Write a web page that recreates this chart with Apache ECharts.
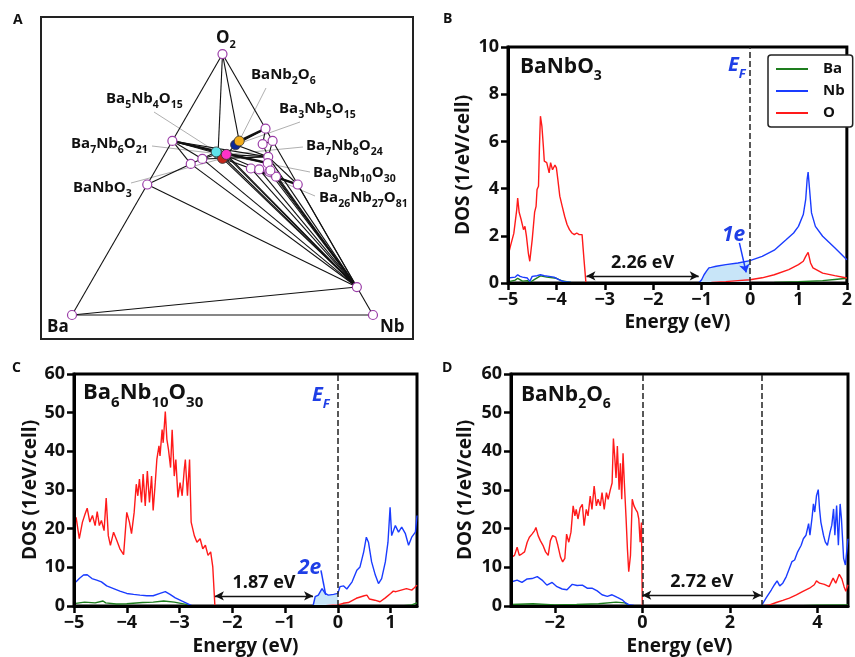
<!DOCTYPE html>
<html>
<head>
<meta charset="utf-8">
<script src="https://cdn.jsdelivr.net/npm/echarts@6/dist/echarts.min.js"></script>
<style>
html, body { margin: 0; padding: 0; background: #fff; }
#chart { width: 855px; height: 657px; }
</style>
</head>
<body>
<div id="chart"></div>
<script>
const FONT = '"Open Sans", "Noto Sans", sans-serif';
const C_BA = '#1e7d1e', C_NB = '#1a3cff', C_O = '#ff1a1a', C_TXT = '#1f3fe6', C_FILL = '#c8e5f8';

// ---- panel A : Ba-Nb-O ternary, compositions as [Ba, Nb, O] ----
const hullNames = ['Ba', 'Nb', 'O2', 'BaO', 'BaO2', 'NbOx', 'Nb2O5', 'NbO2', 'NbO',
    'P1', 'P2', 'P3', 'P4', 'P5', 'P6', 'P7', 'P8', 'P9', 'P10'];
const hullComp = [[1, 0, 0], [0, 1, 0], [0, 0, 1], [0.5, 0, 0.5], [0.333, 0, 0.667], [0, 0.893, 0.107],
    [0, 0.286, 0.714], [0, 0.333, 0.667], [0, 0.5, 0.5],
    [0.316, 0.105, 0.579], [0.268, 0.134, 0.598], [0.039, 0.306, 0.655], [0.045, 0.349, 0.606],
    [0.125, 0.314, 0.562], [0.099, 0.343, 0.558], [0.058, 0.355, 0.575], [0.07, 0.381, 0.549],
    [0.057, 0.413, 0.53], [0.062, 0.37, 0.536]];
const compoundNames = ['Ba7Nb6O21', 'Ba26Nb27O81', 'Ba9Nb10O30', 'BaNbO3', 'Ba5Nb4O15', 'Ba7Nb8O24', 'Ba3Nb5O15', 'BaNb2O6'];
const compoundComp = [[7, 6, 21], [26, 27, 81], [9, 10, 30], [1, 1, 3], [5, 4, 15], [7, 8, 24], [3, 5, 15], [1, 2, 6]];
const compoundColors = ['#5f8f86', '#6b5a1e', '#8a4a1c', '#c4261c', '#5fe3ea', '#ff33c8', '#0d2a96', '#f2ad1c'];
const tieLines = [['Ba', 'O2'], ['O2', 'Nb'], ['Ba', 'Nb'], ['Ba', 'NbOx'], ['BaO', 'NbOx'],
    ['BaO', 'P1'], ['P1', 'Ba5Nb4O15'], ['BaO2', 'P1'], ['BaO2', 'P2'], ['BaO2', 'Ba7Nb6O21'],
    ['BaO2', 'P4'], ['BaO2', 'Ba7Nb8O24'], ['O2', 'Ba7Nb6O21'], ['O2', 'BaNb2O6'],
    ['Nb2O5', 'Ba3Nb5O15'], ['BaNb2O6', 'Ba3Nb5O15'], ['Ba3Nb5O15', 'Ba7Nb8O24'],
    ['P2', 'P4'], ['P2', 'Ba7Nb6O21'], ['Ba7Nb8O24', 'P4'], ['Ba3Nb5O15', 'P4'], ['Ba7Nb8O24', 'P7'],
    ['Nb2O5', 'P3'], ['P3', 'NbO2'], ['P3', 'P4'], ['NbO2', 'P4'],
    ['NbOx', 'P1'], ['NbOx', 'P2'], ['NbOx', 'BaNbO3'], ['NbOx', 'Ba26Nb27O81'], ['NbOx', 'Ba9Nb10O30'],
    ['NbOx', 'Ba7Nb8O24'], ['NbOx', 'P5'], ['NbOx', 'P6'], ['NbOx', 'P10'], ['NbOx', 'P8'],
    ['NbOx', 'P9'], ['NbOx', 'NbO'], ['NbOx', 'P4'], ['NbOx', 'P7'],
    ['BaNbO3', 'P5'], ['Ba9Nb10O30', 'P6'], ['P9', 'NbO'], ['P4', 'NbO']];
const thickLines = [['Nb2O5', 'BaNb2O6'], ['P5', 'NbO'], ['BaO2', 'P7']];

// ---- panel B : BaNbO3 DOS  [E (eV), DOS] ----
const bO = [[-5, 1.13], [-4.95, 1.56], [-4.88, 2.1], [-4.82, 3.1], [-4.8, 3.6], [-4.77, 3.0], [-4.73, 2.7],
    [-4.68, 2.26], [-4.65, 2.4], [-4.62, 2.0], [-4.58, 1.27], [-4.55, 0.92], [-4.5, 1.84], [-4.45, 3.0],
    [-4.42, 3.25], [-4.4, 3.96], [-4.37, 4.1], [-4.35, 5.8], [-4.33, 7.07], [-4.3, 6.65], [-4.27, 5.8],
    [-4.25, 5.16], [-4.2, 5.1], [-4.15, 4.67], [-4.12, 5.1], [-4.08, 4.8], [-4.03, 5.0], [-4.0, 4.88],
    [-3.97, 4.38], [-3.93, 3.68], [-3.88, 3.25], [-3.83, 2.83], [-3.78, 2.48], [-3.73, 2.26], [-3.68, 2.12],
    [-3.63, 2.05], [-3.58, 2.12], [-3.53, 2.05], [-3.47, 2.05], [-3.43, 0.99], [-3.39, 0], [-1.06, 0],
    [-0.8, 0.02], [-0.5, 0.06], [-0.25, 0.1], [0, 0.14], [0.25, 0.22], [0.5, 0.35], [0.8, 0.57], [1.0, 0.78],
    [1.1, 0.92], [1.15, 1.13], [1.2, 1.3], [1.25, 0.85], [1.3, 0.64], [1.5, 0.42], [1.75, 0.31], [2, 0.21]];
const bNb = [[-5, 0.21], [-4.85, 0.25], [-4.8, 0.35], [-4.75, 0.28], [-4.7, 0.25], [-4.6, 0.21], [-4.55, 0.07],
    [-4.5, 0.28], [-4.4, 0.31], [-4.33, 0.35], [-4.25, 0.31], [-4.15, 0.28], [-4.05, 0.25], [-3.95, 0.14],
    [-3.85, 0.06], [-3.7, 0.02], [-3.5, 0], [-1.06, 0], [-1.0, 0.14], [-0.95, 0.35], [-0.9, 0.5], [-0.85, 0.64],
    [-0.8, 0.66], [-0.7, 0.71], [-0.5, 0.78], [-0.25, 0.85], [0, 0.95], [0.25, 1.13], [0.5, 1.39], [0.75, 1.84],
    [0.9, 2.12], [1.0, 2.4], [1.1, 2.9], [1.15, 3.54], [1.18, 4.4], [1.2, 4.7], [1.23, 3.96], [1.27, 2.97],
    [1.35, 2.4], [1.5, 1.98], [1.75, 1.49], [2, 0.99]];
const bBa = [[-5, 0.05], [-4.85, 0.12], [-4.8, 0.2], [-4.7, 0.08], [-4.6, 0.1], [-4.55, 0.02], [-4.45, 0.15],
    [-4.33, 0.3], [-4.2, 0.25], [-4.0, 0.2], [-3.9, 0.1], [-3.7, 0.02], [-3.5, 0], [0, 0], [0.5, 0.02],
    [1.0, 0.05], [1.5, 0.1], [1.75, 0.15], [2, 0.2]];
const bGap = [-3.38, -1.06], bGapLabel = '2.26 eV', bFill = [-1.06, 0];

// ---- panel C : Ba6Nb10O30 DOS ----
const cO = [[-5, 22], [-4.96, 22.9], [-4.9, 17.4], [-4.84, 21.7], [-4.79, 23.8], [-4.75, 25.3], [-4.7, 21.7],
    [-4.65, 23.4], [-4.6, 20.8], [-4.56, 24.4], [-4.52, 20.8], [-4.48, 22.1], [-4.43, 19.5], [-4.39, 27.9],
    [-4.35, 18.2], [-4.31, 15.7], [-4.25, 19.1], [-4.19, 17], [-4.13, 14.8], [-4.06, 13.3], [-4.0, 24.2],
    [-3.95, 21.7], [-3.91, 18.7], [-3.86, 24.2], [-3.82, 31.5], [-3.79, 28.5], [-3.76, 32.8], [-3.72, 26.8],
    [-3.69, 34.1], [-3.65, 25.9], [-3.61, 34.9], [-3.57, 26.8], [-3.53, 33.6], [-3.5, 24.7], [-3.46, 31.9],
    [-3.43, 37.9], [-3.39, 41.4], [-3.37, 38.8], [-3.33, 45.6], [-3.31, 42.2], [-3.27, 50.3], [-3.24, 43.1],
    [-3.21, 40.5], [-3.17, 35.8], [-3.14, 45.6], [-3.1, 33.6], [-3.07, 37.9], [-3.03, 28.1], [-2.99, 31.9],
    [-2.95, 28.5], [-2.91, 35.4], [-2.89, 37.9], [-2.85, 28.5], [-2.81, 37.9], [-2.78, 21.7], [-2.72, 18.2],
    [-2.67, 16.5], [-2.61, 17.4], [-2.56, 14.8], [-2.51, 15.7], [-2.46, 13.1], [-2.41, 14], [-2.37, 10.1],
    [-2.34, 9.7], [-2.33, 0], [-0.3, 0], [-0.1, 0.2], [0, 0.26], [0.1, 0.7], [0.2, 0.9], [0.35, 2.0],
    [0.5, 2.65], [0.55, 2.8], [0.6, 1.8], [0.7, 1.5], [0.8, 1.1], [0.9, 2.1], [1.0, 3.25], [1.05, 3.85],
    [1.1, 3.7], [1.2, 4.1], [1.3, 4.5], [1.4, 4.1], [1.45, 4.7], [1.5, 5.4]];
const cNb = [[-5, 6.5], [-4.96, 6.25], [-4.9, 7.1], [-4.82, 8.0], [-4.75, 8.1], [-4.66, 7.1], [-4.57, 6.7],
    [-4.48, 6.25], [-4.38, 5.2], [-4.25, 4.5], [-4.13, 3.85], [-4.0, 3.25], [-3.87, 3.0], [-3.75, 2.8],
    [-3.62, 2.65], [-3.5, 2.65], [-3.37, 3.25], [-3.27, 3.7], [-3.18, 3.0], [-3.08, 2.1], [-2.96, 1.3],
    [-2.86, 0.7], [-2.77, 0.1], [-2.67, 0], [-0.47, 0], [-0.43, 2.4], [-0.37, 2.8], [-0.3, 4.5],
    [-0.24, 3.25], [-0.18, 2.8], [-0.08, 3.0], [0, 3.25], [0.04, 5.0], [0.11, 5.2], [0.17, 4.4], [0.27, 6.25],
    [0.36, 9.25], [0.42, 10.1], [0.49, 14], [0.54, 17.8], [0.58, 16.5], [0.64, 11.4], [0.71, 8.0], [0.77, 5.8],
    [0.83, 7.1], [0.9, 11.4], [0.95, 16.5], [0.99, 25.5], [1.02, 18.2], [1.09, 20.8], [1.15, 19.1],
    [1.21, 20.4], [1.28, 18.7], [1.34, 15.7], [1.4, 17.8], [1.47, 19.1], [1.5, 23.4]];
const cBa = [[-5, 0.6], [-4.8, 1.0], [-4.6, 0.8], [-4.45, 1.3], [-4.4, 0.8], [-4.2, 0.5], [-4.0, 0.6],
    [-3.7, 0.9], [-3.5, 1.0], [-3.3, 1.3], [-3.1, 1.0], [-2.9, 0.5], [-2.8, 0.1], [-2.7, 0], [1.2, 0],
    [1.4, 0.3], [1.5, 0.8]];
const cGap = [-2.33, -0.47], cGapLabel = '1.87 eV', cFill = [-0.47, 0];

// ---- panel D : BaNb2O6 DOS ----
const dO = [[-3, 12.5], [-2.98, 12.7], [-2.92, 13.1], [-2.86, 15.2], [-2.81, 13.1], [-2.75, 13.5], [-2.69, 14],
    [-2.63, 16.5], [-2.58, 17.8], [-2.52, 18.6], [-2.46, 19.5], [-2.43, 20.3], [-2.38, 18.2], [-2.33, 16.9],
    [-2.27, 15.7], [-2.21, 14], [-2.15, 13.1], [-2.1, 16.9], [-2.05, 18.2], [-1.98, 17.8], [-1.93, 15.7],
    [-1.87, 12.7], [-1.82, 11.4], [-1.77, 12.3], [-1.73, 18.6], [-1.68, 16.5], [-1.63, 19.1], [-1.58, 25.9],
    [-1.54, 23.3], [-1.51, 25], [-1.47, 22.5], [-1.42, 25.4], [-1.37, 26.3], [-1.33, 20.8], [-1.28, 25],
    [-1.24, 23.3], [-1.19, 28.4], [-1.15, 25], [-1.1, 31], [-1.05, 25.9], [-1.01, 27.6], [-0.96, 25.9],
    [-0.92, 29.3], [-0.87, 25], [-0.82, 29.3], [-0.78, 27.6], [-0.73, 30.1], [-0.69, 31.8], [-0.66, 43.3],
    [-0.63, 38.6], [-0.6, 33.1], [-0.57, 41.4], [-0.53, 30.1], [-0.5, 36.9], [-0.47, 27.6], [-0.44, 39.5],
    [-0.41, 31.8], [-0.37, 22.5], [-0.34, 14.8], [-0.31, 8.85], [-0.27, 13.1], [-0.23, 27.6], [-0.19, 25.9],
    [-0.15, 25], [-0.11, 24.2], [-0.08, 22.5], [-0.05, 16.5], [-0.02, 21.6], [0, 0], [2.74, 0], [2.91, 0.3],
    [3.06, 0.9], [3.21, 1.45], [3.36, 2.05], [3.52, 2.9], [3.67, 3.8], [3.82, 4.6], [3.93, 5.5], [3.98, 6.5],
    [4.05, 5.9], [4.16, 5.6], [4.27, 5.0], [4.36, 7.2], [4.42, 5.9], [4.5, 8.2], [4.56, 7.0], [4.61, 5.0],
    [4.65, 3.8], [4.7, 5.5]];
const dNb = [[-3, 6.2], [-2.98, 6.3], [-2.86, 6.7], [-2.75, 6.1], [-2.63, 7.0], [-2.52, 7.1], [-2.4, 7.6],
    [-2.29, 6.7], [-2.18, 5.4], [-2.06, 6.1], [-1.95, 5.0], [-1.83, 4.4], [-1.72, 4.2], [-1.6, 5.6],
    [-1.49, 5.3], [-1.37, 5.4], [-1.26, 4.6], [-1.15, 4.6], [-1.03, 3.9], [-0.92, 2.9], [-0.8, 2.5],
    [-0.69, 2.9], [-0.57, 2.2], [-0.46, 1.6], [-0.38, 0.8], [-0.31, 0.34], [-0.19, 0.17], [-0.04, 0],
    [2.72, 0], [2.74, 0.3], [2.83, 2.1], [2.95, 4.2], [3.02, 5.5], [3.08, 6.5], [3.14, 5.2], [3.21, 5.9],
    [3.29, 7.6], [3.36, 9.7], [3.42, 11.5], [3.48, 11.9], [3.55, 14], [3.63, 15.7], [3.68, 17.4], [3.74, 18.3],
    [3.8, 21.3], [3.83, 18.3], [3.88, 23], [3.91, 26.4], [3.94, 24.3], [3.98, 28.5], [4.02, 30.1], [4.05, 25.1],
    [4.08, 21.7], [4.14, 18.3], [4.18, 16.6], [4.23, 15.7], [4.29, 19.1], [4.33, 20.9], [4.37, 25.1],
    [4.4, 18.3], [4.44, 26], [4.48, 15.7], [4.52, 26.4], [4.55, 22.6], [4.6, 12.3], [4.64, 10.6], [4.67, 14],
    [4.7, 17.4]];
const dBa = [[-3, 0.4], [-2.5, 0.6], [-2, 0.3], [-1.5, 0.4], [-1, 0.6], [-0.6, 1.0], [-0.4, 0.8], [-0.3, 0.1],
    [-0.2, 0], [3.5, 0], [4, 0.2], [4.7, 0.3]];
const dGap = [0, 2.72], dGapLabel = '2.72 eV';

// ---- helpers ----
const S3 = Math.sqrt(3) / 2;
function ternary(comp) {
    const s = comp[0] + comp[1] + comp[2];
    const b = comp[1] / s, c = comp[2] / s;
    return [b + c / 2, c * S3];
}
const pointMap = {};
hullNames.forEach(function (n, i) { pointMap[n] = ternary(hullComp[i]); });
compoundNames.forEach(function (n, i) { pointMap[n] = ternary(compoundComp[i]); });

// chemical formula -> rich text with subscripts
function formula(name) {
    return name.replace(/([A-Za-z]+)(\d*)/g, function (m, el, n) {
        return '{n|' + el + '}' + (n ? '{s|' + n + '}' : '');
    });
}
function formulaRich(size, sub, lift) {
    return {
        n: { fontSize: size, fontWeight: 'bold', fontFamily: FONT, fill: '#111', verticalAlign: 'bottom', padding: [0, 0, lift, 0] },
        s: { fontSize: sub, fontWeight: 'bold', fontFamily: FONT, fill: '#111', verticalAlign: 'bottom' }
    };
}

function dosX(gi, min, max, ticks, gap) {
    return {
        gridIndex: gi, type: 'value', min: min, max: max, z: 6,
        name: 'Energy (eV)', nameLocation: 'middle', nameGap: gap,
        nameTextStyle: { fontSize: 19, fontWeight: 'bold', color: '#111', fontFamily: FONT },
        axisLine: { onZero: false, lineStyle: { color: '#000', width: 3 } },
        axisTick: { customValues: ticks, length: 7, lineStyle: { color: '#000', width: 2.5 } },
        axisLabel: {
            customValues: ticks, fontSize: 18, fontWeight: 'bold', color: '#111', margin: 8, fontFamily: FONT,
            formatter: function (v) { return v < 0 ? '\u2212' + (-v) : String(v); }
        },
        splitLine: { show: false }
    };
}
function dosY(gi, max, interval, gap) {
    return {
        gridIndex: gi, type: 'value', min: 0, max: max, interval: interval, z: 6,
        name: 'DOS (1/eV/cell)', nameLocation: 'middle', nameGap: gap,
        nameTextStyle: { fontSize: 19, fontWeight: 'bold', color: '#111', fontFamily: FONT },
        axisLine: { onZero: false, lineStyle: { color: '#000', width: 3 } },
        axisTick: { length: 7, lineStyle: { color: '#000', width: 2.5 } },
        axisLabel: { fontSize: 18, fontWeight: 'bold', color: '#111', margin: 9, fontFamily: FONT },
        splitLine: { show: false }
    };
}
function dos(name, gi, data, color, extra) {
    return Object.assign({
        name: name, type: 'line', xAxisIndex: gi, yAxisIndex: gi, data: data,
        symbol: 'none', lineStyle: { color: color, width: 1.4 }, itemStyle: { color: color },
        z: 3, silent: true
    }, extra || {});
}
function shade(gi, data, range) {
    return {
        type: 'line', xAxisIndex: gi, yAxisIndex: gi, symbol: 'none', silent: true, z: 2,
        data: data.filter(function (p) { return p[0] >= range[0] && p[0] <= range[1]; }),
        lineStyle: { width: 0 }, areaStyle: { color: C_FILL, opacity: 1 }
    };
}
function efLine(xs) {
    return {
        silent: true, symbol: 'none', label: { show: false },
        lineStyle: { type: 'dashed', color: '#222', width: 1.5 },
        data: xs.map(function (x) { return { xAxis: x }; })
    };
}
function gapLine(range, y, text) {
    return {
        silent: true, symbol: ['arrow', 'arrow'], symbolSize: [7, 9],
        lineStyle: { type: 'solid', color: '#111', width: 1.3 },
        label: { show: true, position: 'middle', formatter: text, fontSize: 18, fontWeight: 'bold', color: '#111', fontFamily: FONT, distance: 4 },
        data: [[{ coord: [range[0], y] }, { coord: [range[1], y] }]]
    };
}
function pointerLine(from, to, head) {
    return {
        silent: true, symbol: ['none', head], symbolSize: 8, label: { show: false },
        lineStyle: { type: 'solid', color: C_NB, width: 1.5 },
        data: [[{ coord: from }, { coord: to }]]
    };
}

// ---- series ----
const series = [];
tieLines.concat(thickLines).forEach(function (pair, i) {
    series.push({
        type: 'line', xAxisIndex: 0, yAxisIndex: 0, symbol: 'none', silent: true, z: 1,
        data: [pointMap[pair[0]], pointMap[pair[1]]],
        lineStyle: { color: '#111', width: i >= tieLines.length ? 2.4 : 1.1 }
    });
});
series.push({
    type: 'scatter', xAxisIndex: 0, yAxisIndex: 0, silent: true, z: 4, symbolSize: 9,
    data: hullNames.map(function (n) { return pointMap[n]; }),
    itemStyle: { color: '#fff', borderColor: '#9b3ea8', borderWidth: 1.2, opacity: 1 }
});
series.push({
    type: 'scatter', xAxisIndex: 0, yAxisIndex: 0, silent: true, z: 5, symbolSize: 10,
    data: compoundNames.map(function (n, i) {
        return { value: pointMap[n], itemStyle: { color: compoundColors[i] } };
    }),
    itemStyle: { borderColor: '#333', borderWidth: 0.8, opacity: 1 }
});

series.push(shade(1, bNb, bFill));
series.push(dos('Ba', 1, bBa, C_BA, { markLine: efLine([0]) }));
series.push(dos('Nb', 1, bNb, C_NB, { markLine: pointerLine([-0.22, 1.7], [-0.08, 0.45], 'arrow') }));
series.push(dos('O', 1, bO, C_O, { markLine: gapLine(bGap, 0.3, bGapLabel) }));

series.push(shade(2, cNb, cFill));
series.push(dos('Ba', 2, cBa, C_BA, { markLine: efLine([0]) }));
series.push(dos('Nb', 2, cNb, C_NB, { markLine: pointerLine([-0.32, 9.2], [-0.23, 2.9], 'none') }));
series.push(dos('O', 2, cO, C_O, { markLine: gapLine(cGap, 2.6, cGapLabel) }));

series.push(dos('Ba', 3, dBa, C_BA, { markLine: efLine(dGap) }));
series.push(dos('Nb', 3, dNb, C_NB));
series.push(dos('O', 3, dO, C_O, { markLine: gapLine(dGap, 2.8, dGapLabel) }));

const option = {
    animation: false,
    textStyle: { fontFamily: FONT },
    legend: {
        data: ['Ba', 'Nb', 'O'], orient: 'vertical', left: 768, top: 55,
        icon: 'rect', itemWidth: 32, itemHeight: 2, itemGap: 4,
        padding: [5, 8, 5, 8],
        borderColor: '#222', borderWidth: 1.5, borderRadius: 3, backgroundColor: '#fff',
        textStyle: { fontSize: 15, fontWeight: 'bold', color: '#111', fontFamily: FONT, padding: [0, 0, 0, 10], lineHeight: 18 },
        selectedMode: false
    },
    grid: [
        { left: 41, top: 17, width: 372, height: 322 },
        { left: 508, top: 47, width: 344, height: 236, show: true, borderColor: '#000', borderWidth: 3 },
        { left: 74, top: 374, width: 343, height: 234, show: true, borderColor: '#000', borderWidth: 3 },
        { left: 511, top: 374, width: 337, height: 234, show: true, borderColor: '#000', borderWidth: 3 }
    ],
    xAxis: [
        { gridIndex: 0, type: 'value', min: -0.103, max: 1.133, show: false },
        dosX(1, -5, 2, [-5, -4, -3, -2, -1, 0, 1, 2], 30),
        dosX(2, -5, 1.5, [-5, -4, -3, -2, -1, 0, 1], 31),
        dosX(3, -3, 4.7, [-2, 0, 2, 4], 31)
    ],
    yAxis: [
        { gridIndex: 0, type: 'value', min: -0.0797, max: 0.989, show: false },
        dosY(1, 10, 2, 35),
        dosY(2, 60, 10, 32),
        dosY(3, 60, 10, 36)
    ],
    series: series
};

const chart = echarts.init(document.getElementById('chart'), null, { renderer: 'canvas' });
chart.setOption(option);

// ---- texts, frame and leader lines (layout in pixels) ----
function txt(x, y, text, rich, extra) {
    return {
        type: 'text', x: x, y: y, silent: true, z: 50,
        style: Object.assign({ text: text, rich: rich, align: 'left', verticalAlign: 'middle', fill: '#111' }, extra || {})
    };
}
function plain(x, y, text, size, extra) {
    return {
        type: 'text', x: x, y: y, silent: true, z: 50,
        style: Object.assign({ text: text, font: 'bold ' + size + 'px ' + FONT, fill: '#111', align: 'left', verticalAlign: 'middle' }, extra || {})
    };
}
const efRich = {
    e: { fontSize: 20, fontWeight: 'bold', fontStyle: 'italic', fontFamily: FONT, fill: C_TXT, verticalAlign: 'bottom', padding: [0, 0, 5, 0] },
    f: { fontSize: 13, fontWeight: 'bold', fontStyle: 'italic', fontFamily: FONT, fill: C_TXT, verticalAlign: 'bottom' }
};
const labelRich = formulaRich(15, 10.5, 4);
const titleRich = formulaRich(21, 14, 6);
const titleRichC = formulaRich(22, 15, 6);

// label anchor [text x, text y, leader start x, leader start y]
const labelLayout = {
    'BaNb2O6': [251, 77, 266, 88],
    'Ba5Nb4O15': [106, 101, 154, 112],
    'Ba3Nb5O15': [279, 111, 300, 122],
    'Ba7Nb6O21': [71, 146, 152, 146],
    'Ba7Nb8O24': [306, 148, 303, 147],
    'Ba9Nb10O30': [313, 175, 310, 172],
    'BaNbO3': [73, 190, 131, 183],
    'Ba26Nb27O81': [319, 200, 315, 196]
};

const graphics = [
    { type: 'rect', shape: { x: 41, y: 17, width: 372, height: 322 }, style: { fill: 'none', stroke: '#222', lineWidth: 2 }, silent: true, z: 0 },
    plain(13, 20, 'A', 14), plain(443, 19, 'B', 14), plain(12, 368, 'C', 14), plain(442, 368, 'D', 14),
    txt(216, 40, formula('O2'), formulaRich(17, 11, 4)),
    plain(47, 327, 'Ba', 17), plain(380, 327, 'Nb', 17),
    txt(520, 70, formula('BaNbO3'), titleRich),
    txt(83, 396, formula('Ba6Nb10O30'), titleRichC),
    txt(521, 398, formula('BaNb2O6'), titleRich),
    txt(728, 68, '{e|E}{f|F}', efRich),
    txt(312, 398, '{e|E}{f|F}', efRich),
    plain(722, 235, '1e', 21, { fill: C_TXT, font: 'italic bold 21px ' + FONT }),
    plain(298, 568, '2e', 21, { fill: C_TXT, font: 'italic bold 21px ' + FONT })
];
compoundNames.forEach(function (n) {
    const l = labelLayout[n];
    const p = chart.convertToPixel({ xAxisIndex: 0, yAxisIndex: 0 }, pointMap[n]);
    graphics.push({
        type: 'line', silent: true, z: 0,
        shape: { x1: l[2], y1: l[3], x2: p[0], y2: p[1] },
        style: { stroke: '#9a9a9a', lineWidth: 0.8 }
    });
    graphics.push(txt(l[0], l[1], formula(n), labelRich));
});
chart.setOption({ graphic: graphics });
</script>
</body>
</html>
